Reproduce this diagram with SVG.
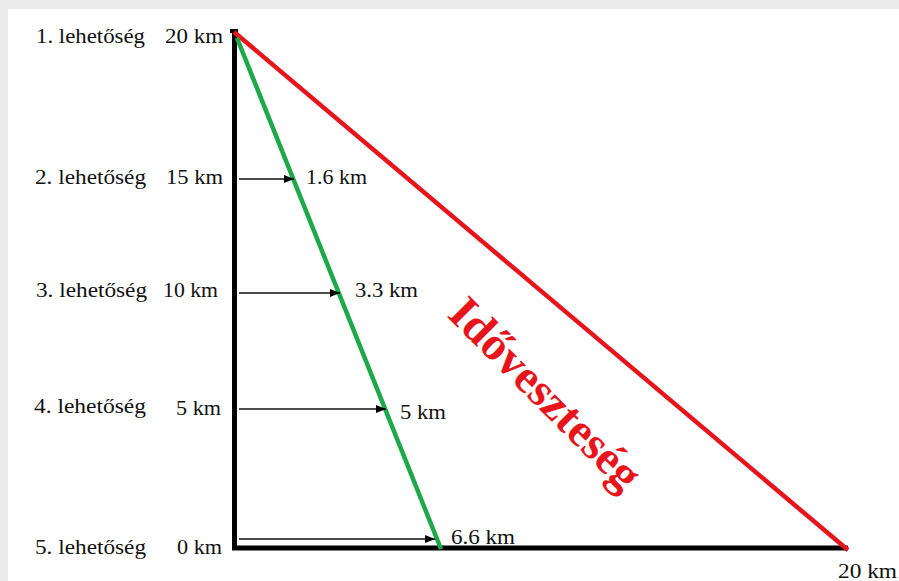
<svg xmlns="http://www.w3.org/2000/svg" width="899" height="581" viewBox="0 0 899 581">
  <style>
    .lbl { font-family: "Liberation Serif", "Times New Roman", "DejaVu Serif", serif; font-size: 20px; fill: #111; }
    .arrow { stroke: #111; stroke-width: 1.3; fill: none; marker-end: url(#ah); }
    .axis { stroke: #000; stroke-width: 5; fill: none; }
    .title { font-family: "Liberation Serif", "Times New Roman", "DejaVu Serif", serif; font-size: 47px; font-weight: bold; fill: #e8141c; }
  </style>
  <defs>
    <marker id="ah" markerWidth="10" markerHeight="8" refX="10" refY="4" orient="auto" markerUnits="userSpaceOnUse">
      <path d="M0,0 L10,4 L0,8 Z" fill="#000"/>
    </marker>
  </defs>
  <rect x="0" y="0" width="899" height="581" fill="#ebebeb"/>
  <rect x="8" y="9" width="891" height="572" fill="#ffffff"/>

  <g id="axes">
    <path class="axis" d="M234.5,29 L234.5,548 L848,548"/>
    <path d="M230,31 L238,31" stroke="#000" stroke-width="4"/>
  </g>

  <g id="lines">
    <line id="red-line" x1="234" y1="32" x2="848" y2="550" stroke="#e8141c" stroke-width="4.5"/>
    <line id="green-line" x1="237" y1="38" x2="441" y2="549" stroke="#1fa84a" stroke-width="4.5"/>
  </g>

  <g id="connectors">
    <line class="arrow" x1="239" y1="179" x2="294" y2="179"/>
    <line class="arrow" x1="239" y1="293" x2="340" y2="293"/>
    <line class="arrow" x1="239" y1="409" x2="386" y2="409"/>
    <line class="arrow" x1="239" y1="539" x2="435" y2="539"/>
  </g>

  <g id="option1">
    <text class="lbl" x="36" y="43" textLength="109" lengthAdjust="spacingAndGlyphs">1. lehetőség</text>
    <text class="lbl" x="165" y="43" textLength="58" lengthAdjust="spacingAndGlyphs">20 km</text>
  </g>
  <g id="option2">
    <text class="lbl" x="35" y="184" textLength="111" lengthAdjust="spacingAndGlyphs">2. lehetőség</text>
    <text class="lbl" x="166" y="184" textLength="57" lengthAdjust="spacingAndGlyphs">15 km</text>
    <text class="lbl" x="306" y="184" textLength="61" lengthAdjust="spacingAndGlyphs">1.6 km</text>
  </g>
  <g id="option3">
    <text class="lbl" x="36" y="297" textLength="111" lengthAdjust="spacingAndGlyphs">3. lehetőség</text>
    <text class="lbl" x="163" y="297" textLength="55" lengthAdjust="spacingAndGlyphs">10 km</text>
    <text class="lbl" x="355" y="297" textLength="63" lengthAdjust="spacingAndGlyphs">3.3 km</text>
  </g>
  <g id="option4">
    <text class="lbl" x="34" y="413" textLength="112" lengthAdjust="spacingAndGlyphs">4. lehetőség</text>
    <text class="lbl" x="176" y="415" textLength="45" lengthAdjust="spacingAndGlyphs">5 km</text>
    <text class="lbl" x="400" y="419" textLength="46" lengthAdjust="spacingAndGlyphs">5 km</text>
  </g>
  <g id="option5">
    <text class="lbl" x="35" y="554" textLength="111" lengthAdjust="spacingAndGlyphs">5. lehetőség</text>
    <text class="lbl" x="177" y="554" textLength="45" lengthAdjust="spacingAndGlyphs">0 km</text>
    <text class="lbl" x="451" y="544" textLength="64" lengthAdjust="spacingAndGlyphs">6.6 km</text>
  </g>
  <g id="end-label">
    <text class="lbl" x="838" y="578" textLength="59" lengthAdjust="spacingAndGlyphs">20 km</text>
  </g>
  <g id="time-loss">
    <text class="title" transform="translate(446,316) rotate(45)">Időveszteség</text>
  </g>
</svg>
